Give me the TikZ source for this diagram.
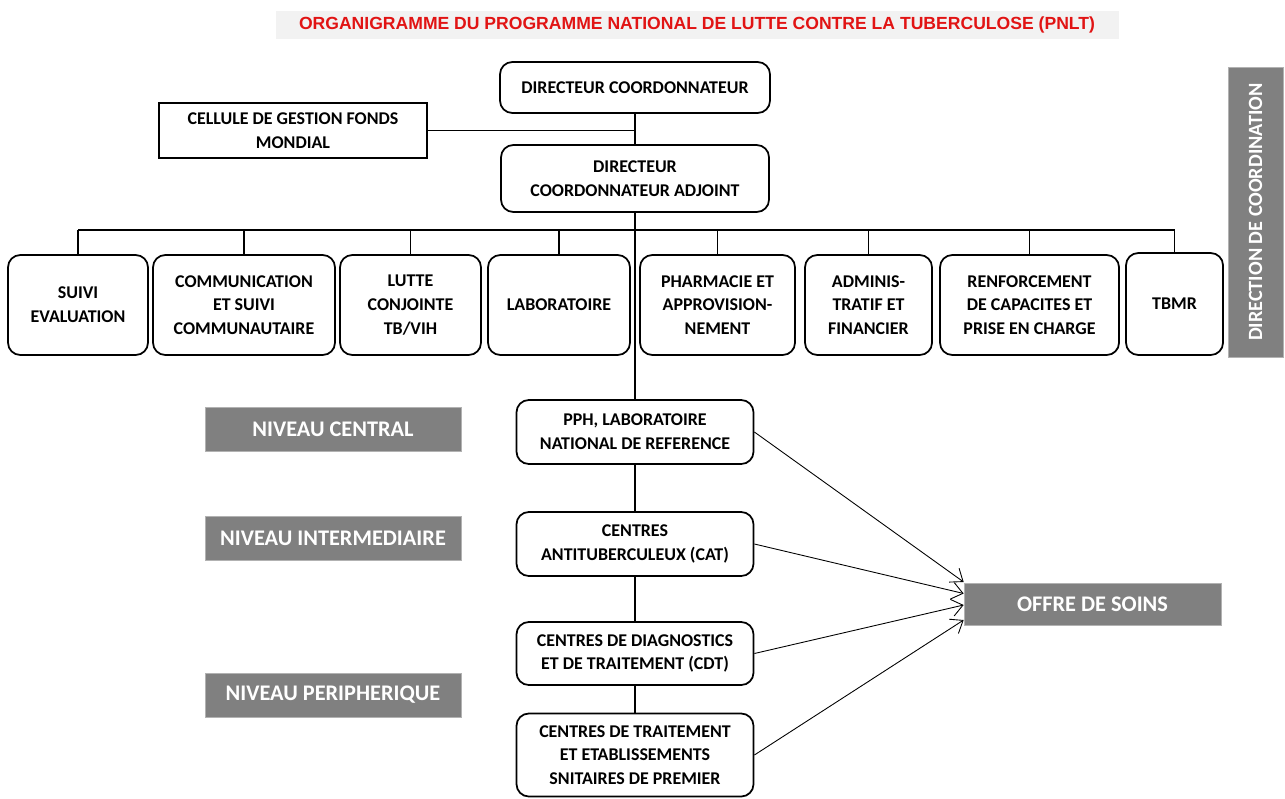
\documentclass[tikz,border=0pt]{standalone}
\usepackage{fontspec}
\setmainfont{Carlito}
\newfontfamily\titlefont{Liberation Sans}
\usetikzlibrary{arrows.meta,positioning}
\definecolor{levelgray}{RGB}{128,128,128}
\definecolor{titlered}{RGB}{225,20,20}
\definecolor{titlebg}{RGB}{242,242,242}

\begin{document}
\begin{tikzpicture}[font=\bfseries\fontsize{10.2}{13.5}\selectfont,unit/.style={draw,line width=1pt,rounded corners=7pt,align=center,inner sep=2pt},flatbox/.style={draw,line width=1pt,align=center,inner sep=2pt},level/.style={fill=levelgray,draw=black!30,text=white,align=center,font=\bfseries\fontsize{12.7}{14}\selectfont},conn/.style={line width=0.9pt},arr/.style={line width=0.5pt,-{Straight Barb[length=2.2mm,width=3.4mm]}}]
\useasboundingbox (0,0) rectangle (25.7,-15.96);
\node[fill=titlebg,minimum width=16.86cm,minimum height=0.44cm,text=titlered,font=\titlefont\bfseries\fontsize{10}{11}\selectfont] (title) at (13.94,-0.5){ORGANIGRAMME DU PROGRAMME NATIONAL DE LUTTE CONTRE LA TUBERCULOSE (PNLT)};
% direction
\node[unit,minimum width=5.4cm,minimum height=1.02cm] (dc) at (12.7,-1.75){DIRECTEUR COORDONNATEUR};
\node[flatbox,minimum width=5.36cm,minimum height=1.1cm] (fonds) at (5.86,-2.61){CELLULE DE GESTION FONDS\\MONDIAL};
\node[unit,minimum width=5.36cm,minimum height=1.34cm] (adj) at (12.7,-3.57){DIRECTEUR\\COORDONNATEUR ADJOINT};
\node[level,rotate=90,minimum width=5.8cm,minimum height=1.1cm,font=\bfseries\fontsize{11.5}{13}\selectfont] (dircoord) at (25.11,-4.24){DIRECTION DE COORDINATION};
% services
\coordinate (bus) at (12.7,-4.6);
\node[unit,minimum width=2.8cm,minimum height=2cm] (sv) at (1.56,-6.1){SUIVI\\EVALUATION};
\node[unit,minimum width=3.64cm,minimum height=2cm] (com) at (4.88,-6.1){COMMUNICATION\\ET SUIVI\\COMMUNAUTAIRE};
\node[unit,minimum width=2.82cm,minimum height=2cm] (lut) at (8.21,-6.1){LUTTE\\CONJOINTE\\TB/VIH};
\node[unit,minimum width=2.84cm,minimum height=2cm] (lab) at (11.18,-6.1){LABORATOIRE};
\node[unit,minimum width=3.1cm,minimum height=2cm] (pha) at (14.35,-6.1){PHARMACIE ET\\APPROVISION-\\NEMENT};
\node[unit,minimum width=2.54cm,minimum height=2cm] (adm) at (17.37,-6.1){ADMINIS-\\TRATIF ET\\FINANCIER};
\node[unit,minimum width=3.58cm,minimum height=2cm] (ren) at (20.59,-6.1){RENFORCEMENT\\DE CAPACITES ET\\PRISE EN CHARGE};
\node[unit,minimum width=1.94cm,minimum height=2.04cm] (tb) at (23.49,-6.08){TBMR};
% niveaux
\node[level,minimum width=5.12cm,minimum height=0.88cm] (ncent) at (6.66,-8.58){NIVEAU CENTRAL};
\node[level,minimum width=5.12cm,minimum height=0.88cm] (ninter) at (6.66,-10.76){NIVEAU INTERMEDIAIRE};
\node[level,minimum width=5.12cm,minimum height=0.88cm] (nperi) at (6.66,-13.9){NIVEAU PERIPHERIQUE};
\node[unit,minimum width=4.74cm,minimum height=1.28cm] (pph) at (12.7,-8.64){PPH, LABORATOIRE\\NATIONAL DE REFERENCE};
\node[unit,minimum width=4.74cm,minimum height=1.28cm] (cat) at (12.7,-10.88){CENTRES\\ANTITUBERCULEUX (CAT)};
\node[unit,minimum width=4.74cm,minimum height=1.26cm] (cdt) at (12.7,-13.07){CENTRES DE DIAGNOSTICS\\ET DE TRAITEMENT (CDT)};
\node[unit,minimum width=4.74cm,minimum height=1.66cm] (ctr) at (12.7,-15.1){CENTRES DE TRAITEMENT\\ET ETABLISSEMENTS\\SNITAIRES DE PREMIER};
\node[level,minimum width=5.14cm,minimum height=0.84cm] (offre) at (21.85,-12.08){OFFRE DE SOINS};
% liens
\draw[conn] (dc) -- (adj);\draw[conn] (fonds.east) -- (fonds.east -| dc.south);\draw[conn] (adj) -- (pph);\draw[conn] (pph) -- (cat);\draw[conn] (cat) -- (cdt);\draw[conn] (cdt) -- (ctr);
\draw[conn] (sv.north |- bus) -- (tb.north |- bus);
\foreach \s in {sv,com,lut,lab,pha,adm,ren,tb} \draw[conn] (\s.north) -- (\s.north |- bus);
\draw[arr] (pph.east) -- ([yshift=0.44cm]offre.west);\draw[arr] (cat.east) -- ([yshift=0.21cm]offre.west);\draw[arr] (cdt.east) -- ([yshift=-0.02cm]offre.west);\draw[arr] (ctr.east) -- ([yshift=-0.32cm]offre.west);
\end{tikzpicture}
\end{document}
